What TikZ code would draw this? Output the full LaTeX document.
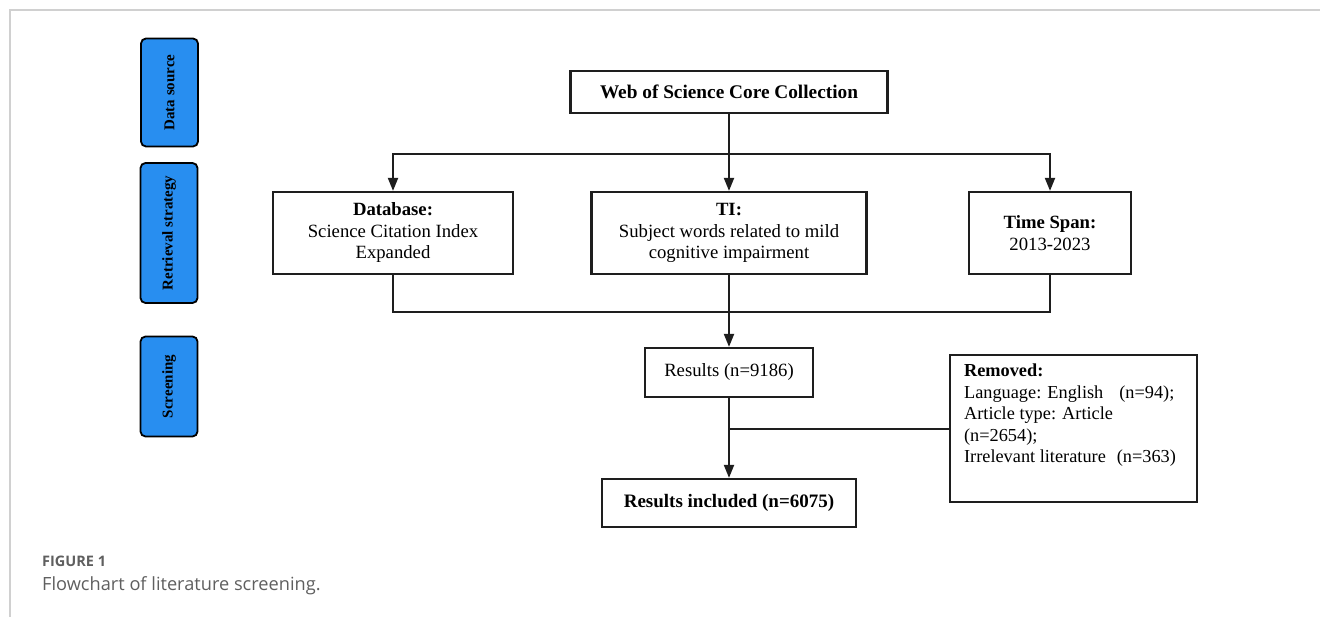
\documentclass[tikz,border=0pt]{standalone}
\usepackage{fontspec}
\setmainfont{Liberation Serif}
\newfontfamily\capfont{Open Sans}
\usetikzlibrary{arrows.meta,positioning}
\definecolor{sideblue}{RGB}{40,142,240}
\definecolor{linegray}{RGB}{30,30,30}
\definecolor{framegray}{RGB}{208,208,208}
\definecolor{capgray}{RGB}{95,95,95}

\begin{document}
\begin{tikzpicture}
	[   x=1pt,y=-1pt,
	    box/.style={draw=linegray,line width=2.2pt,fill=white,inner sep=0pt,align=center,minimum width=#1,font=\fontsize{18.7}{21.5}\selectfont},
	    sidebox/.style={draw=black,line width=1.8pt,fill=sideblue,rounded corners=5pt,rotate=90,inner sep=0pt,minimum width=#1,minimum height=57pt,font=\fontsize{15}{17}\selectfont\bfseries},
	]
	\tikzset{normal arrow/.style={draw=linegray,line width=2pt,-{Triangle[length=13pt,width=10pt]}}}
	\useasboundingbox (0,0) rectangle (1320,617);
	\draw[framegray,line width=1.5pt] (10,617) -- (10,10) -- (1320,10);
	
	\node[sidebox=108pt] (ds) at (169.5,92.5) {Data source};
	\node[sidebox=140pt] (rs) at (169,233) {Retrieval strategy};
	\node[sidebox=100pt] (sc) at (169,386.5) {Screening};
	
	\node[box=317pt,minimum height=42pt,font=\fontsize{19.3}{21.5}\selectfont\bfseries] (wos) at (729,92) {Web of Science Core Collection};
	\node[box=240pt,minimum height=82pt] (db) at (393,233) {\textbf{Database:}\\Science Citation Index\\Expanded};
	\node[box=275pt,minimum height=82pt] (ti) at (729,233) {\textbf{TI:}\\Subject words related to mild\\cognitive impairment};
	\node[box=162pt,minimum height=82pt] (ts) at (1050,233) {\textbf{Time Span:}\\2013-2023};
	\node[box=168pt,minimum height=49pt] (res) at (729,372.5) {Results (n=9186)};
	\node[box=254pt,minimum height=48pt,font=\fontsize{19}{21.5}\selectfont\bfseries] (inc) at (729,503) {Results included (n=6075)};
	\node[box=247pt,minimum height=147pt] (rem) at (1073.5,428.5) {};
	\node[anchor=north west,align=left,inner sep=0pt,font=\fontsize{18.3}{21.5}\selectfont] (remtext) at ([xshift=15pt,yshift=-10pt]rem.north west)
		{\textbf{Removed:}\\Language: English\hspace*{16pt}(n=94);\\Article type: Article\\(n=2654);\\Irrelevant literature\hspace*{11pt}(n=363)};
	
	\coordinate (fork) at (729,154);
	\coordinate (join) at (729,312);
	\draw[linegray,line width=2pt] (wos) -- (fork);
	\path[normal arrow] (fork) -| (db.north);
	\path[normal arrow] (fork) -- (ti.north);
	\path[normal arrow] (fork) -| (ts.north);
	\draw[linegray,line width=2pt] (db.south) |- (join) -| (ts.south);
	\path[normal arrow] (ti.south) -- (res.north);
	\path[normal arrow] (res.south) -- (inc.north);
	\draw[linegray,line width=2pt] (rem.west) -- (rem.west -| res.south);
	
	\node[anchor=west,inner sep=0pt,text=capgray,font=\capfont\fontsize{14.5}{17}\selectfont\bfseries] (fig) at (42,561) {FIGURE 1};
	\node[anchor=west,inner sep=0pt,text=capgray,font=\capfont\fontsize{18.2}{20}\selectfont] (cap) at (42,586) {Flowchart of literature screening.};
\end{tikzpicture}
\end{document}
